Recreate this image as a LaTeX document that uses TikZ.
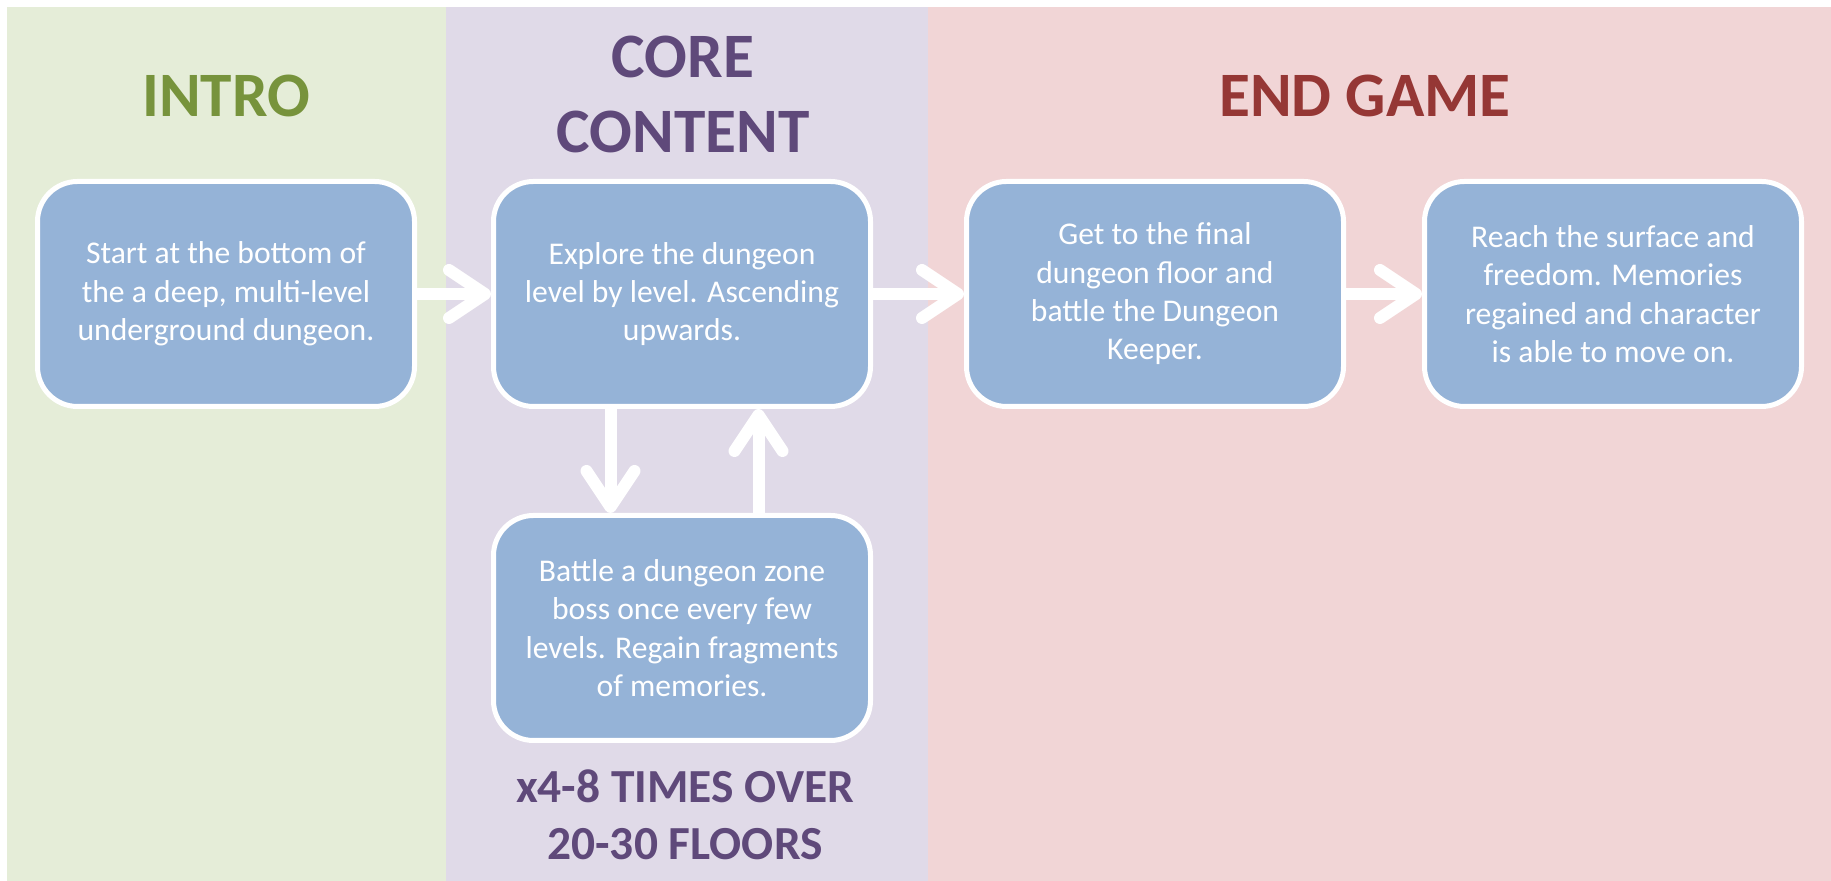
\documentclass[tikz,border=0pt]{standalone}
\usepackage{fontspec}
\setmainfont{Carlito}
\usepackage{tikz}
\usetikzlibrary{arrows.meta}
\definecolor{introbg}{HTML}{E5EDD8}
\definecolor{corebg}{HTML}{E0DAE8}
\definecolor{endbg}{HTML}{F1D5D6}
\definecolor{introfg}{HTML}{77933C}
\definecolor{corefg}{HTML}{5F497A}
\definecolor{endfg}{HTML}{953735}
\definecolor{boxblue}{HTML}{95B3D7}
\tikzset{
        stage box/.style={
            draw=white, line width=0.05cm, fill=boxblue, rounded corners=0.4cm,
            minimum width=3.77cm, minimum height=2.25cm,
            text=white, align=center, font=\fontsize{9}{10.9}\selectfont,
            execute at begin node={\rule{0pt}{10pt}}
        },
        phase title/.style={anchor=base, align=center, font=\fontsize{18}{21.6}\selectfont\bfseries},
        flow arrow/.style={draw=white, line width=0.12cm, -{Straight Barb[length=0.36cm, width=0.48cm, round]}},
    }

\begin{document}
\begin{tikzpicture}[x = 0.1mm, y = -0.1mm]
                \useasboundingbox (0,0) rectangle (1831,881);
                \fill[white] (0,0) rectangle (1831,881);
                % three phase columns
                \foreach \l/\r/\c in {7/446/introbg, 446/928/corebg, 928/1831/endbg}
                {
                    \path[fill=\c] (\l,7) rectangle (\r,881);
                }
                % multi-line titles sit on the baseline of their last line
                \node[phase title, text=introfg] (intro) at (226,117) {INTRO};
                \node[phase title, text=corefg] (core) at (683,153) {CORE\\CONTENT};
                \node[phase title, text=endfg] (endgame) at (1365,117) {END GAME};
                % stages
                \node[stage box] (start) at (226,294) {Start at the bottom of\\the a deep, multi-level\\underground dungeon.};
                \node[stage box] (explore) at (682,294) {Explore the dungeon\\level by level. Ascending\\upwards.};
                \node[stage box] (keeper) at (1155,294) {Get to the final\\dungeon floor and\\battle the Dungeon\\Keeper.};
                \node[stage box] (surface) at (1613,294) {Reach the surface and\\freedom. Memories\\regained and character\\is able to move on.};
                \node[stage box] (zoneboss) at (682,628) {Battle a dungeon zone\\boss once every few\\levels. Regain fragments\\of memories.};
                \node[phase title, text=corefg, font=\fontsize{13.5}{16.5}\selectfont\bfseries] (repeats) at (685,860) {x4-8 TIMES OVER\\20-30 FLOORS};
                % flow
                \draw[flow arrow] (start) -- (explore);
                \draw[flow arrow] (explore) -- (keeper);
                \draw[flow arrow] (keeper) -- (surface);
                \draw[flow arrow] ([xshift=-0.715cm]explore.south) -- ([xshift=-0.715cm]zoneboss.north);
                \draw[flow arrow] ([xshift=0.765cm]zoneboss.north) -- ([xshift=0.765cm]explore.south);
            \end{tikzpicture}
\end{document}
